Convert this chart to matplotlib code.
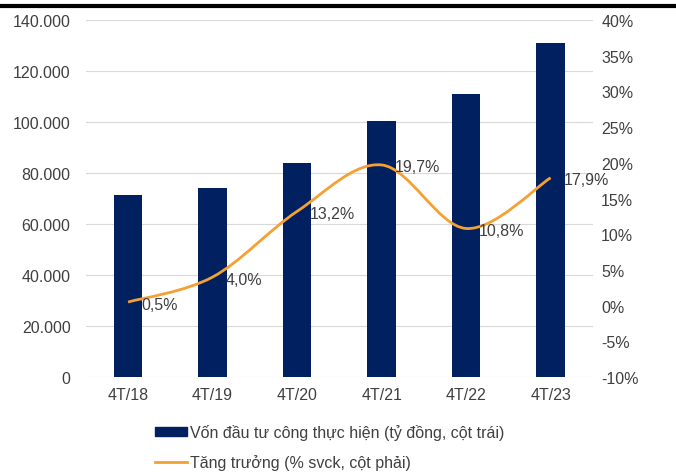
import matplotlib
matplotlib.use("Agg")
import matplotlib.pyplot as plt
import numpy as np
from matplotlib.path import Path
from matplotlib.patches import PathPatch, Patch
from matplotlib.lines import Line2D
from matplotlib.ticker import FuncFormatter

plt.rcParams['font.family'] = ['Liberation Sans', 'DejaVu Sans']

categories = ["4T/18", "4T/19", "4T/20", "4T/21", "4T/22", "4T/23"]
von_dau_tu = [71400, 74100, 83900, 100400, 111000, 131000]
tang_truong = [0.5, 4.0, 13.2, 19.7, 10.8, 17.9]
growth_labels = ["0,5%", "4,0%", "13,2%", "19,7%", "10,8%", "17,9%"]

navy = "#002060"
orange = "#F5A033"
txt = "#404040"
fs = 11.5

fig = plt.figure(figsize=(6.76, 4.77), dpi=100)
ax = fig.add_axes([0.127, 0.2075, 0.75, 0.7485])
ax2 = ax.twinx()

x = np.arange(len(categories))
ax.bar(x, von_dau_tu, width=0.34, color=navy, zorder=2)
ax.set_ylim(0, 140000)
ax.set_yticks(np.arange(0, 140001, 20000))
ax.yaxis.set_major_formatter(FuncFormatter(lambda v, p: f"{int(v):,}".replace(",", ".")))
ax.set_xlim(-0.5, len(categories) - 0.5)
ax.set_xticks(x)
ax.set_xticklabels(categories)
ax.grid(axis='y', color='#d9d9d9', linewidth=0.8, zorder=0)
ax.set_axisbelow(True)

for a in (ax, ax2):
    for s in a.spines.values():
        s.set_visible(False)
    a.tick_params(length=0, labelsize=fs, colors=txt)
ax.tick_params(axis='y', pad=11)
ax.tick_params(axis='x', pad=7)
ax2.tick_params(axis='y', pad=6)

ax2.set_ylim(-10, 40)
ax2.set_yticks(np.arange(-10, 41, 5))
ax2.yaxis.set_major_formatter(FuncFormatter(lambda v, p: f"{int(v)}%"))

# smoothed line (Catmull-Rom rendered as cubic Bezier)
pts = np.column_stack([x, tang_truong]).astype(float)
verts = [tuple(pts[0])]
codes = [Path.MOVETO]
n = len(pts)
t = 1 / 6
for i in range(n - 1):
    p0 = pts[i - 1] if i > 0 else pts[i]
    p1 = pts[i]
    p2 = pts[i + 1]
    p3 = pts[i + 2] if i + 2 < n else pts[i + 1]
    c1 = p1 + (p2 - p0) * t
    c2 = p2 - (p3 - p1) * t
    verts += [tuple(c1), tuple(c2), tuple(p2)]
    codes += [Path.CURVE4] * 3
ax2.add_patch(PathPatch(Path(verts, codes), facecolor='none', edgecolor=orange, linewidth=2, zorder=3))

for xi, yi, lab in zip(x, tang_truong, growth_labels):
    ax2.annotate(lab, (xi, yi), xytext=(13, -2), textcoords='offset pixels',
                 ha='left', va='center', fontsize=fs, color=txt)

handles = [Patch(facecolor=navy, edgecolor=navy),
           Line2D([0], [0], color=orange, linewidth=2)]
fig.legend(handles, ["Vốn đầu tư công thực hiện (tỷ đồng, cột trái)", "Tăng trưởng (% svck, cột phải)"],
           loc='upper left', bbox_to_anchor=(0.22, 0.122), frameon=False, fontsize=fs,
           labelcolor=txt, handlelength=2.0, handleheight=0.5, handletextpad=0.2,
           labelspacing=0.85, borderaxespad=0)

fig.add_artist(Line2D([0, 1], [0.986, 0.986], transform=fig.transFigure, color='black', linewidth=3))

fig.savefig("out.png", dpi=100)
